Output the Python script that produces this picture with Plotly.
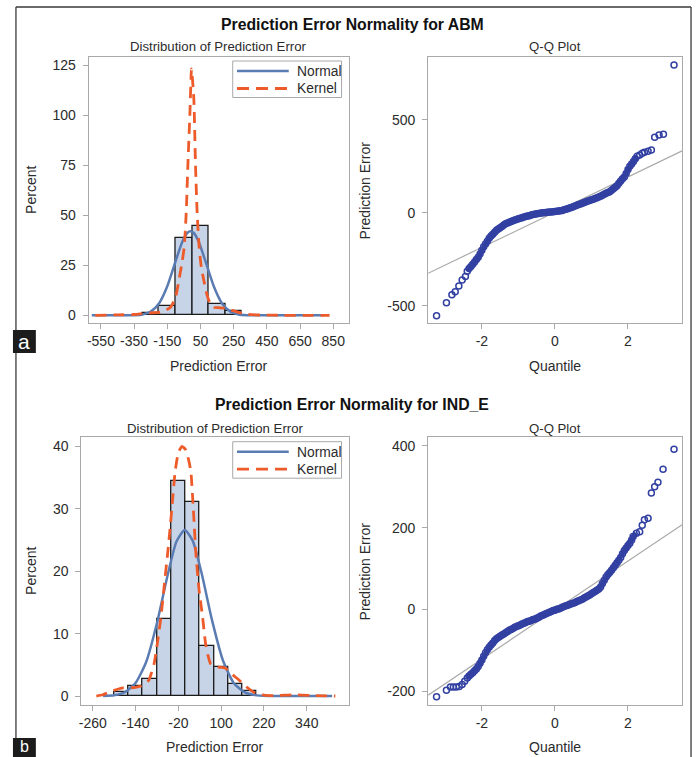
import plotly.graph_objects as go

W, H = 696, 757

# ---------------- DATA ----------------
# Panel a (ABM) histogram
hist_a_centers = [-250, -150, -50, 50, 150, 250]
hist_a_pct = [1.3, 4.8, 38.8, 44.7, 5.5, 2.0]
hist_a_binwidth = 100
hist_a_ticks = [-550, -350, -150, 50, 250, 450, 650, 850]
hist_a_yticks = [0, 25, 50, 75, 100, 125]

normal_a_x = [-605, -400, -350, -300, -250, -200, -150, -100, -60, -30, -10, 10, 40, 80, 130, 180, 230, 280, 330, 400, 500, 790]
normal_a_y = [0, 0.0, 0.08, 0.44, 1.84, 5.9, 14.5, 27.0, 36.6, 41.1, 42.0, 41.1, 36.6, 27.0, 14.5, 5.9, 1.84, 0.44, 0.08, 0, 0, 0]

kernel_a_x = [-584, -450, -350, -300, -250, -200, -160, -131, -100, -80, -60, -48, -36, -26, -14, -4, 10, 20, 30, 42, 55, 70, 90, 110, 130, 160, 200, 240, 280, 330, 420, 550, 700, 828]
kernel_a_y = [0, 0.2, 0.4, 0.8, 1.2, 1.5, 2.5, 4, 9, 17.5, 27, 34, 51, 75, 100, 123, 108, 75, 51, 34, 24, 17.5, 10, 5.5, 4, 3.8, 3.5, 2.5, 1.5, 0.5, 0.1, 0, 0, 0]

# Panel a Q-Q
qq_a_q = [-3.24, -2.97, -2.82, -2.73, -2.63, -2.54, -2.45,
          -2.40, -2.35, -2.30, -2.25, -2.20, -2.15, -2.10, -2.05, -2.00, -1.95,
          -1.90, -1.85, -1.80, -1.75, -1.70, -1.65, -1.60, -1.55, -1.50, -1.45,
          -1.40, -1.35, -1.30, -1.25, -1.20, -1.15, -1.10, -1.05, -1.00, -0.95,
          -0.90, -0.85, -0.80, -0.75, -0.70, -0.65, -0.60, -0.55, -0.50, -0.45,
          -0.40, -0.35, -0.30, -0.25, -0.20, -0.15, -0.10, -0.05, 0.00, 0.05,
          0.10, 0.15, 0.20, 0.25, 0.30, 0.35, 0.40, 0.45, 0.50, 0.55,
          0.60, 0.65, 0.70, 0.75, 0.80, 0.85, 0.90, 0.95, 1.00, 1.05,
          1.10, 1.15, 1.20, 1.25, 1.30, 1.35, 1.40, 1.45, 1.50, 1.55,
          1.60, 1.65, 1.70, 1.75, 1.80, 1.85, 1.90, 1.95, 2.00, 2.05,
          2.10, 2.15, 2.20, 2.25, 2.32, 2.39, 2.45, 2.55, 2.64,
          2.73, 2.85, 2.97, 3.26]
qq_a_err = [-554, -484, -442, -425, -394, -362, -344,
            -315, -300, -289, -278, -265, -252, -240, -222, -202, -183,
            -168, -154, -138, -126, -116, -106, -95, -88, -81, -74,
            -67, -60, -56, -52, -48, -44, -40, -37, -33, -30,
            -27, -24, -21, -18, -16, -13, -10, -8, -6, -4,
            -3, -1, 0, 1, 2, 3, 4, 5, 6, 7,
            9, 10, 12, 15, 18, 21, 25, 28, 32, 36,
            40, 44, 47, 51, 55, 58, 62, 65, 69, 72,
            76, 80, 84, 88, 94, 99, 104, 108, 113, 120,
            128, 136, 145, 158, 170, 182, 192, 210, 232, 250,
            262, 275, 290, 303, 310, 319, 325, 330, 337,
            405, 418, 421, 794]
qq_a_dense = (7, 101)   # index range of the dense central band
qq_a_line_q = [-3.47, 3.48]
qq_a_line_err = [-326, 332]

# Panel b (IND_E) histogram
hist_b_centers = [-180, -140, -100, -60, -20, 20, 60, 100, 140, 180]
hist_b_pct = [0.7, 1.65, 2.8, 12.4, 34.4, 31.1, 8.0, 4.6, 1.9, 0.85]
hist_b_binwidth = 40
hist_b_ticks = [-260, -140, -20, 100, 220, 340]
hist_b_yticks = [0, 10, 20, 30, 40]

normal_b_x = [-231, -200, -170, -140, -110, -80, -50, -25, -2, 20, 45, 75, 105, 135, 165, 195, 230, 300, 411]
normal_b_y = [0.02, 0.13, 0.6, 2.1, 5.5, 11.7, 19.4, 24.8, 26.6, 24.9, 19.7, 12.0, 5.7, 2.1, 0.62, 0.14, 0.02, 0, 0]

kernel_b_x = [-250, -232, -210, -195, -175, -158, -140, -125, -112, -102, -95, -88, -80, -69, -60, -50, -43, -37, -29, -20, -10, 0, 8, 15, 21, 29, 38, 48, 56, 63, 70, 80, 95, 111, 130, 149, 170, 195, 220, 250, 300, 350, 420]
kernel_b_y = [0, 0.2, 0.7, 1.0, 1.3, 1.3, 1.4, 1.6, 2.0, 2.6, 3.8, 5.2, 8.0, 12.6, 17.5, 22.9, 27, 30.9, 36, 39, 40, 39.5, 38, 36, 30.9, 22.9, 17, 12.6, 8.5, 6.5, 5.2, 4.8, 4.6, 4.5, 3.5, 2.6, 1.5, 0.5, 0.15, 0.05, 0.2, 0.1, 0]

# Panel b Q-Q
qq_b_q = [-3.24, -2.97, -2.86, -2.78, -2.70, -2.62, -2.54, -2.47,
          -2.40, -2.35, -2.30, -2.25, -2.20, -2.15, -2.10, -2.05, -2.00, -1.95,
          -1.90, -1.85, -1.80, -1.75, -1.70, -1.65, -1.60, -1.55, -1.50, -1.45,
          -1.40, -1.35, -1.30, -1.25, -1.20, -1.15, -1.10, -1.05, -1.00, -0.95,
          -0.90, -0.85, -0.80, -0.75, -0.70, -0.65, -0.60, -0.55, -0.50, -0.45,
          -0.40, -0.35, -0.30, -0.25, -0.20, -0.15, -0.10, -0.05, 0.00, 0.05,
          0.10, 0.15, 0.20, 0.25, 0.30, 0.35, 0.40, 0.45, 0.50, 0.55,
          0.60, 0.65, 0.70, 0.75, 0.80, 0.85, 0.90, 0.95, 1.00, 1.05,
          1.10, 1.15, 1.20, 1.25, 1.30, 1.35, 1.40, 1.45, 1.50, 1.55,
          1.60, 1.65, 1.70, 1.75, 1.80, 1.85, 1.90, 1.95, 2.00, 2.05,
          2.10, 2.14, 2.23, 2.32, 2.39, 2.45, 2.55, 2.64, 2.73, 2.82, 2.96, 3.26]
qq_b_err = [-214, -198, -190, -190, -190, -189, -184, -176,
            -168, -163, -159, -155, -150, -146, -140, -132, -124, -115,
            -106, -99, -93, -87, -82, -76, -72, -69, -66, -63,
            -60, -57, -54, -51, -49, -47, -44, -42, -40, -38,
            -36, -34, -32, -30, -29, -27, -25, -24, -22, -20,
            -17, -15, -13, -11, -9, -7, -5, -3, -2, 0,
            1, 3, 5, 7, 9, 10, 12, 14, 15, 17,
            19, 21, 23, 25, 28, 30, 33, 35, 38, 41,
            44, 47, 50, 55, 63, 71, 79, 85, 90, 96,
            102, 108, 114, 120, 127, 136, 144, 150, 156, 162,
            170, 178, 186, 190, 206, 219, 223, 285, 300, 311, 343, 392]
qq_b_dense = (8, 101)
qq_b_line_q = [-3.47, 3.48]
qq_b_line_err = [-210, 207]
qq_xticks = [-2, 0, 2]
qq_a_yticks = [-500, 0, 500]
qq_b_yticks = [-200, 0, 200, 400]

# ---------------- STYLE ----------------
FONT = "Liberation Sans, Arial, sans-serif"
TXT = "#2b2b2b"
BOX = "#a9a9a9"
BAR_FILL = "#c7d4e8"
NORMAL_C = "#5a7cb2"
KERNEL_C = "#ee5b2b"
QQ_C = "#3240a2"


def px(x):
    return x / W


def py(y):
    return 1 - y / H


def labels(vals):
    return [str(v) for v in vals]  # plain hyphen minus like the original


fig = go.Figure()


def add_hist(centers, pct, bw, nx, ny, kx, ky, xa, ya):
    fig.add_trace(go.Bar(x=centers, y=pct, width=bw,
                         marker=dict(color=BAR_FILL, line=dict(color="#1a1a1a", width=1.3)),
                         xaxis=xa, yaxis=ya, showlegend=False))
    fig.add_trace(go.Scatter(x=nx, y=ny, mode="lines",
                             line=dict(color=NORMAL_C, width=2.5, shape="spline", smoothing=0.6),
                             xaxis=xa, yaxis=ya, showlegend=False))
    fig.add_trace(go.Scatter(x=kx, y=ky, mode="lines",
                             line=dict(color=KERNEL_C, width=2.8, dash="11px,7px", shape="spline", smoothing=0.5),
                             xaxis=xa, yaxis=ya, showlegend=False))


def add_qq(q, err, dense, lq, lerr, xa, ya):
    fig.add_trace(go.Scatter(x=lq, y=lerr, mode="lines", line=dict(color="#ababab", width=1.2),
                             xaxis=xa, yaxis=ya, showlegend=False))
    i0, i1 = dense
    fig.add_trace(go.Scatter(x=q[i0:i1], y=err[i0:i1], mode="lines",
                             line=dict(color=QQ_C, width=5),
                             xaxis=xa, yaxis=ya, showlegend=False, hoverinfo="skip"))
    fig.add_trace(go.Scatter(x=q, y=err, mode="markers",
                             marker=dict(symbol="circle-open", size=6, color=QQ_C, line=dict(width=1.5, color=QQ_C)),
                             xaxis=xa, yaxis=ya, showlegend=False))


add_hist(hist_a_centers, hist_a_pct, hist_a_binwidth, normal_a_x, normal_a_y, kernel_a_x, kernel_a_y, "x", "y")
add_qq(qq_a_q, qq_a_err, qq_a_dense, qq_a_line_q, qq_a_line_err, "x2", "y2")
add_hist(hist_b_centers, hist_b_pct, hist_b_binwidth, normal_b_x, normal_b_y, kernel_b_x, kernel_b_y, "x3", "y3")
add_qq(qq_b_q, qq_b_err, qq_b_dense, qq_b_line_q, qq_b_line_err, "x4", "y4")

axis_common = dict(showline=True, mirror=True, linecolor=BOX, linewidth=1, ticks="outside", ticklen=5,
                   tickcolor=BOX, showgrid=False, zeroline=False, tickfont=dict(size=14, color=TXT, family=FONT),
                   fixedrange=True)
yaxis_common = dict(axis_common, ticklabelstandoff=4)


def tk(vals):
    return dict(tickmode="array", tickvals=vals, ticktext=labels(vals))


fig.update_layout(
    width=W, height=H, margin=dict(l=0, r=0, t=0, b=0),
    paper_bgcolor="white", plot_bgcolor="white", bargap=0,
    font=dict(family=FONT, color=TXT),
    xaxis=dict(domain=[px(86), px(347)], range=[-624, 942], anchor="y", **tk(hist_a_ticks), **axis_common),
    yaxis=dict(domain=[py(323.3), py(57)], range=[-4, 129], anchor="x", **tk(hist_a_yticks), **yaxis_common),
    xaxis2=dict(domain=[px(427), px(682)], range=[-3.47, 3.48], anchor="y2", **tk(qq_xticks), **axis_common),
    yaxis2=dict(domain=[py(323.3), py(57)], range=[-595, 837], anchor="x2", **tk(qq_a_yticks), **yaxis_common),
    xaxis3=dict(domain=[px(78.7), px(347)], range=[-292, 457], anchor="y3", **tk(hist_b_ticks), **axis_common),
    yaxis3=dict(domain=[py(705), py(437)], range=[-1.44, 41.5], anchor="x3", **tk(hist_b_yticks), **yaxis_common),
    xaxis4=dict(domain=[px(427), px(682)], range=[-3.47, 3.48], anchor="y4", **tk(qq_xticks), **axis_common),
    yaxis4=dict(domain=[py(705), py(437.3)], range=[-234, 421], anchor="x4", **tk(qq_b_yticks), **yaxis_common),
)

ann = []


def text(x, y, s, size, bold=False, angle=0, color=TXT, xanchor="center"):
    ann.append(dict(x=px(x), y=py(y), xref="paper", yref="paper", text=("<b>%s</b>" % s) if bold else s,
                    showarrow=False, xanchor=xanchor, yanchor="middle", textangle=angle,
                    font=dict(size=size, color=color, family=FONT)))


# Titles
text(351, 24, "Prediction Error Normality for ABM", 15.8, bold=True, color="#111")
text(351, 405, "Prediction Error Normality for IND_E", 15.8, bold=True, color="#111")
text(216.5, 47, "Distribution of Prediction Error", 13.2)
text(554.5, 47, "Q-Q Plot", 13.2)
text(213, 428, "Distribution of Prediction Error", 13.2)
text(554.5, 428, "Q-Q Plot", 13.2)
# Axis titles
text(216.5, 366, "Prediction Error", 14)
text(554.5, 366, "Quantile", 14)
text(213, 746.5, "Prediction Error", 14)
text(554.5, 746.5, "Quantile", 14)
text(28, 190, "Percent", 14, angle=-90)
text(28, 571, "Percent", 14, angle=-90)
text(364, 190, "Prediction Error", 14, angle=-90)
text(364, 571, "Prediction Error", 14, angle=-90)
# Legend texts
text(293, 71, "Normal", 13.8, xanchor="left")
text(293, 88.5, "Kernel", 13.8, xanchor="left")
text(293, 452, "Normal", 13.8, xanchor="left")
text(293, 469.5, "Kernel", 13.8, xanchor="left")
# Panel letters
text(21.5, 341.5, "a", 21, color="white")
text(21.5, 746, "b", 16, color="white")

shapes = []


def line(x0, y0, x1, y1, color, width, dash=None):
    d = dict(type="line", xref="paper", yref="paper", x0=px(x0), y0=py(y0), x1=px(x1), y1=py(y1),
             line=dict(color=color, width=width))
    if dash:
        d["line"]["dash"] = dash
    shapes.append(d)


def rect(x0, y0, x1, y1, fill=None, color=None, width=1):
    shapes.append(dict(type="rect", xref="paper", yref="paper", x0=px(x0), y0=py(y0), x1=px(x1), y1=py(y1),
                       fillcolor=fill if fill else "rgba(0,0,0,0)",
                       line=dict(color=color if color else "rgba(0,0,0,0)", width=width)))


# Outer frame
line(13, 7, 691, 7, "#3a3a3a", 1.3)
line(13, 7, 13, 757, "#3a3a3a", 1.3)
line(691, 7, 691, 757, "#3a3a3a", 1.3)
# Legend boxes
for top in (61, 441.7):
    rect(230.7, top, 340, top + 36.5, fill="white", color=BOX, width=1)
    line(235, top + 10, 287, top + 10, NORMAL_C, 2.5)
    line(235, top + 27.5, 287, top + 27.5, KERNEL_C, 2.8, dash="12px,7px")
# Panel letter boxes
rect(10, 330, 33, 353, fill="#1c1c1c")
rect(10, 738, 33, 760, fill="#1c1c1c")

fig.update_layout(shapes=shapes, annotations=ann)

fig.write_html("out.html", config={"displayModeBar": False},
               post_script="document.body.style.margin='0px';document.body.style.overflow='hidden';")
